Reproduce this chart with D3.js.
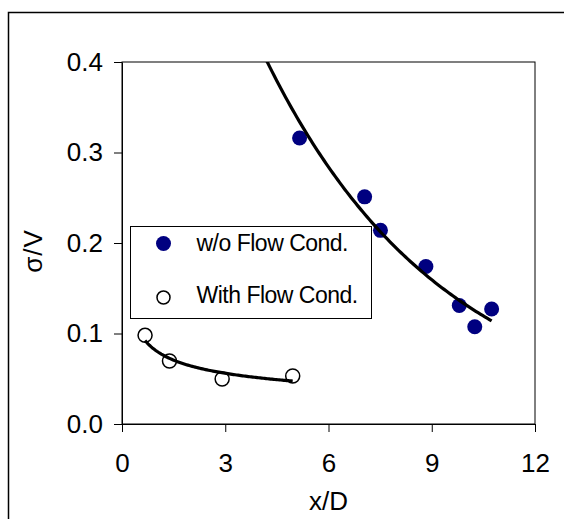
<!DOCTYPE html>
<html>
<head>
<meta charset="utf-8">
<script src="https://cdn.jsdelivr.net/npm/d3@7"></script>
<style>
body { margin: 0; background: #fff; }
text { font-family: "Liberation Sans", Arial, sans-serif; fill: #000; }
</style>
</head>
<body>
<div id="chart"></div>
<script>
// data
var woX = [5.16, 7.05, 7.51, 8.83, 9.80, 10.25, 10.74],
    woY = [0.316, 0.251, 0.214, 0.174, 0.131, 0.1075, 0.127],
    withX = [0.67, 1.38, 2.91, 4.96],
    withY = [0.098, 0.0696, 0.0497, 0.053],
    xTicks = [0, 3, 6, 9, 12],
    yTicks = [0, 0.1, 0.2, 0.3, 0.4],
    seriesNames = ["w/o Flow Cond.", "With Flow Cond."];

var W = 564, H = 519,
    margin = {left: 122, top: 62, right: 29, bottom: 95},
    w = W - margin.left - margin.right,
    h = H - margin.top - margin.bottom;

var svg = d3.select("#chart").append("svg").attr("width", W).attr("height", H);

// outer chart border (runs off right / bottom)
svg.append("rect").attr("x", 8.5).attr("y", 12.5).attr("width", 600).attr("height", 600)
   .attr("fill", "none").attr("stroke", "#000").attr("stroke-width", 1.5);

var g = svg.append("g").attr("transform", "translate(" + margin.left + "," + margin.top + ")");

var x = d3.scaleLinear().domain([0, 12]).range([0, w]),
    y = d3.scaleLinear().domain([0, 0.4]).range([h, 0]);

g.append("clipPath").attr("id", "clip").append("rect").attr("width", w).attr("height", h);

// plot frame
g.append("rect").attr("width", w).attr("height", h).attr("fill", "none")
 .attr("stroke", "#000").attr("stroke-width", 1);

var xAxis = g.append("g").attr("transform", "translate(0," + h + ")")
  .call(d3.axisBottom(x).tickValues(xTicks).tickSize(8).tickSizeOuter(0).tickPadding(22));
var yAxis = g.append("g")
  .call(d3.axisLeft(y).tickValues(yTicks).tickFormat(d3.format(".1f")).tickSize(8).tickSizeOuter(0).tickPadding(11));
[xAxis, yAxis].forEach(function(a) {
  a.selectAll("text").style("font-size", "26px").attr("fill", "#000");
  a.selectAll("line, path").attr("stroke", "#000");
});

// axis titles
svg.append("text").attr("x", margin.left + x(6)).attr("y", 510)
   .attr("text-anchor", "middle").style("font-size", "26px").text("x/D");
svg.append("text").attr("transform", "translate(42,251) rotate(-90)")
   .attr("text-anchor", "middle").style("font-size", "26px").style("letter-spacing", "1px").text("σ/V");

// regressions like spreadsheet trendlines
function fit(xs, ys, logX) {
  var lx = xs.map(function(v) { return logX ? Math.log(v) : v; }),
      ly = ys.map(Math.log),
      mx = d3.mean(lx), my = d3.mean(ly),
      b = d3.sum(lx, function(v, i) { return (v - mx) * (ly[i] - my); }) /
          d3.sum(lx, function(v) { return (v - mx) * (v - mx); }),
      a = Math.exp(my - b * mx);
  return logX ? function(t) { return a * Math.pow(t, b); }
              : function(t) { return a * Math.exp(b * t); };
}
var expFit = fit(woX, woY, false),
    powFit = fit(withX, withY, true);

function curve(f, x0, x1) {
  return d3.range(0, 101).map(function(i) { var t = x0 + (x1 - x0) * i / 100; return [t, f(t)]; });
}
var line = d3.line().x(function(d) { return x(d[0]); }).y(function(d) { return y(d[1]); });

var plot = g.append("g").attr("clip-path", "url(#clip)");

plot.selectAll("circle.wo").data(woX).enter().append("circle").attr("class", "wo")
  .attr("cx", function(d) { return x(d); })
  .attr("cy", function(d, i) { return y(woY[i]); })
  .attr("r", 7.5).attr("fill", "#000080");

plot.selectAll("circle.with").data(withX).enter().append("circle").attr("class", "with")
  .attr("cx", function(d) { return x(d); })
  .attr("cy", function(d, i) { return y(withY[i]); })
  .attr("r", 7).attr("fill", "none").attr("stroke", "#000").attr("stroke-width", 1.5);

plot.append("path").datum(curve(expFit, d3.min(woX) - 1, d3.max(woX))).attr("d", line)
  .attr("fill", "none").attr("stroke", "#000").attr("stroke-width", 3.2);
plot.append("path").datum(curve(powFit, d3.min(withX), d3.max(withX))).attr("d", line)
  .attr("fill", "none").attr("stroke", "#000").attr("stroke-width", 3.2);

// legend
var lg = svg.append("g").attr("transform", "translate(130.5,226.5)");
lg.append("rect").attr("width", 241).attr("height", 92).attr("fill", "#fff").attr("stroke", "#000");
lg.append("circle").attr("cx", 33).attr("cy", 17).attr("r", 7.5).attr("fill", "#000080");
lg.append("circle").attr("cx", 33).attr("cy", 71).attr("r", 6.5).attr("fill", "none")
  .attr("stroke", "#000").attr("stroke-width", 1.5);
lg.selectAll("text").data(seriesNames).enter().append("text")
  .attr("x", 66).attr("y", function(d, i) { return 24 + i * 52; })
  .style("font-size", "23px").style("letter-spacing", "-0.5px").text(function(d) { return d; });
</script>
</body>
</html>
